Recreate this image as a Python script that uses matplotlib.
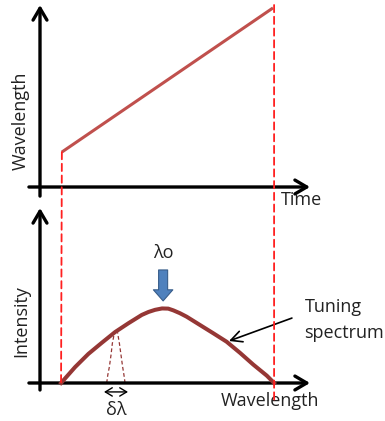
import numpy as np
import matplotlib.pyplot as plt
from matplotlib.patches import ConnectionPatch

plt.rcParams['font.family'] = ['Open Sans', 'DejaVu Sans']

# tuning ramp (top panel)
time = [0.81, 8.63]
wavelength = [1.92, 9.84]

# tuning spectrum (bottom panel)
spec_x = [0.78, 1.30, 1.79, 2.29, 2.78, 3.27, 3.77, 4.02, 4.26, 4.52, 4.75, 4.94,
          5.18, 5.43, 5.93, 6.42, 6.91, 7.41, 7.90, 8.40, 8.67]
spec_y = [0.0, 0.91, 1.66, 2.30, 2.91, 3.41, 3.89, 4.06, 4.18, 4.26, 4.25, 4.15,
          3.99, 3.79, 3.31, 2.84, 2.36, 1.72, 1.05, 0.42, 0.0]

# narrow laser line
line_left_x = [2.47, 2.51, 2.57, 2.63, 2.68, 2.76]
line_right_x = [3.15, 3.11, 3.06, 3.00, 2.94, 2.87]
line_y = [0.0, 0.45, 0.93, 1.6, 2.27, 2.9]

lambda0 = 4.56
dlam = [2.37, 3.26]

txt = '#222222'
W, H = 385, 421
fig = plt.figure(figsize=(W / 100, H / 100), dpi=100)
ax1 = fig.add_axes([40 / W, (H - 187) / H, 270 / W, 182 / H])
ax2 = fig.add_axes([40 / W, (H - 383) / H, 270 / W, 175 / H])
for ax in (ax1, ax2):
    ax.set_xlim(0, 10)
    ax.set_ylim(0, 10)
    ax.axis('off')

axis_arrow = dict(arrowstyle='->,head_length=0.85,head_width=0.5', lw=2.4,
                  color='k', shrinkA=0, shrinkB=0)

# top panel axes
ax1.annotate('', xy=(0, 10.0), xytext=(0, -0.5), arrowprops=axis_arrow, annotation_clip=False)
ax1.annotate('', xy=(10.0, 0), xytext=(-0.41, 0), arrowprops=axis_arrow, annotation_clip=False)
ax1.plot(time, wavelength, color='#c0504d', lw=2.2, solid_capstyle='butt', clip_on=False)
ax1.text(-0.7, 3.63, 'Wavelength', rotation=90, ha='center', va='center', fontsize=13, color=txt)
ax1.text(9.7, -0.72, 'Time', ha='center', va='center', fontsize=13, color=txt)

# bottom panel axes
ax2.annotate('', xy=(0, 10.0), xytext=(0, -0.4), arrowprops=axis_arrow, annotation_clip=False)
ax2.annotate('', xy=(10.0, 0), xytext=(-0.41, 0), arrowprops=axis_arrow, annotation_clip=False)
ax2.plot(spec_x, spec_y, color='#953735', lw=2.9, clip_on=False, zorder=3,
         solid_joinstyle='round')
ax2.plot(line_left_x, line_y, color='#953735', lw=0.9, ls=(0, (3, 2)), clip_on=False)
ax2.plot(line_right_x, line_y, color='#953735', lw=0.9, ls=(0, (3, 2)), clip_on=False)
ax2.text(-0.7, 3.54, 'Intensity', rotation=90, ha='center', va='center', fontsize=13, color=txt)
ax2.text(8.52, -1.03, 'Wavelength', ha='center', va='center', fontsize=13, color=txt)

ax2.annotate('', xy=(dlam[0], -0.51), xytext=(dlam[1], -0.51),
             arrowprops=dict(arrowstyle='<->,head_length=0.5,head_width=0.3', lw=1.0,
                             color='k', shrinkA=0, shrinkB=0), annotation_clip=False)
ax2.text(np.mean(dlam), -1.56, 'δλ', ha='center', va='center', fontsize=13, color=txt)

ax2.text(lambda0, 7.43, 'λo', ha='center', va='center', fontsize=13, color=txt)
ax2.annotate('', xy=(lambda0, 4.69), xytext=(lambda0, 6.46),
             arrowprops=dict(arrowstyle='simple,head_length=0.8,head_width=1.4,tail_width=0.65',
                             mutation_scale=10, fc='#4f81bd', ec='#385d8a', lw=0.8,
                             shrinkA=0, shrinkB=0))

ax2.text(9.81, 4.34, 'Tuning', ha='left', va='center', fontsize=13, color=txt)
ax2.text(9.77, 2.86, 'spectrum', ha='left', va='center', fontsize=13, color=txt)
ax2.annotate('', xy=(7.0, 2.4), xytext=(9.33, 3.71),
             arrowprops=dict(arrowstyle='->,head_length=0.8,head_width=0.4', lw=1.2,
                             color='k', shrinkA=0, shrinkB=0), annotation_clip=False)

# red dashed guides linking the panels
dash = dict(color='#ff2020', lw=1.3, ls=(0, (4, 2.5)))
fig.add_artist(ConnectionPatch(xyA=(time[0], wavelength[0]), coordsA=ax1.transData,
                               xyB=(spec_x[0], 0), coordsB=ax2.transData, **dash))
fig.add_artist(ConnectionPatch(xyA=(spec_x[-1], 10.0), coordsA=ax1.transData,
                               xyB=(spec_x[-1], -0.97), coordsB=ax2.transData, **dash))

fig.savefig('out.png', dpi=100)
